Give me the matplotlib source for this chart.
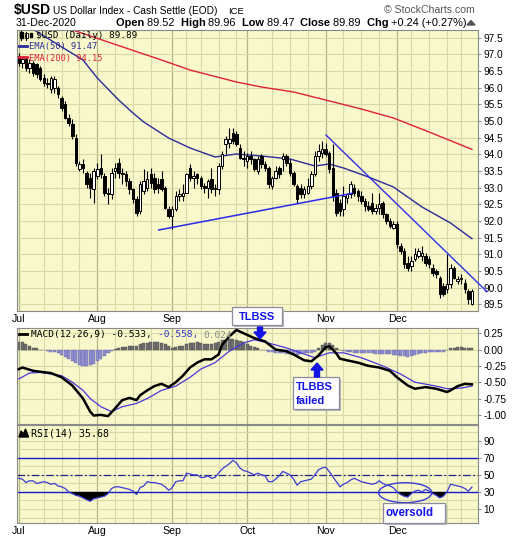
import numpy as np
import pandas as pd
import matplotlib
matplotlib.use("Agg")
import matplotlib.pyplot as plt
from matplotlib.patches import Rectangle, Ellipse, Polygon

# ---------------- data ----------------
holidays = ["2020-07-03", "2020-09-07", "2020-11-26", "2020-12-25"]
dates = pd.bdate_range("2020-07-01", "2020-12-31").drop(pd.to_datetime(holidays))

opens = [96.95,96.75,96.85,96.6,96.75,96.7,96.6,96.3,96.15,95.95,
 96.0,96.0,95.7,95.5,95.1,94.9,94.5,93.55,93.7,93.45,
 93.3,92.95,93.35,93.6,93.35,92.85,92.8,93.5,93.75,93.4,
 93.4,93.2,92.95,92.65,92.3,92.9,93.0,93.4,93.3,93.1,
 93.25,93.0,92.35,92.15,92.35,92.75,92.75,92.85,93.6,93.3,
 93.4,93.3,93.05,93.0,93.25,92.95,92.95,93.65,94.3,94.35,
 94.65,94.6,94.2,93.9,93.8,93.95,93.85,93.5,93.95,93.7,
 93.6,93.05,93.3,93.6,93.85,93.95,93.75,93.45,93.05,93.0,
 92.8,92.85,93.05,93.4,93.95,94.05,94.15,94.05,93.6,92.85,
 92.55,92.35,92.7,92.8,93.0,92.9,92.75,92.6,92.45,92.55,
 92.3,92.4,92.55,92.2,92.0,91.8,91.9,91.25,91.1,90.75,
 90.65,90.85,90.95,90.95,90.95,90.85,90.6,90.5,90.3,90.05,
 89.95,90.1,90.6,90.2,90.25,90.15,89.9,89.52]
highs = [97.05,96.95,96.9,96.85,96.8,96.75,96.65,96.4,96.3,96.35,
 96.35,96.05,95.75,95.6,95.2,95.05,94.6,93.8,93.85,93.5,
 93.45,93.6,93.75,94.0,93.45,93.0,93.6,93.75,93.9,93.6,
 93.5,93.3,93.0,92.75,93.2,93.55,93.5,93.6,93.45,93.3,
 93.5,93.05,92.45,92.45,92.9,92.95,93.1,93.45,93.7,93.5,
 93.45,93.35,93.15,93.25,93.6,93.1,93.75,94.1,94.55,94.8,
 94.8,94.7,94.3,94.1,94.05,94.1,93.9,93.95,94.0,93.8,
 93.65,93.35,93.65,93.65,94.05,94.0,93.85,93.5,93.1,93.1,
 93.05,93.3,93.5,94.1,94.3,94.4,94.35,94.1,94.3,92.95,
 92.65,93.05,92.85,93.2,93.1,92.95,92.9,92.7,92.6,92.85,
 92.5,92.85,92.6,92.25,92.1,92.0,92.0,91.35,91.2,90.95,
 90.95,91.2,91.2,91.25,91.05,90.95,90.7,90.55,90.35,90.15,
 91.0,90.7,90.65,90.35,90.4,90.25,89.95,89.96]
lows = [96.65,96.6,96.5,96.45,96.35,96.3,96.2,96.05,96.0,95.85,
 95.85,95.7,95.3,95.05,94.85,94.45,93.65,93.5,93.45,93.0,
 92.7,92.55,93.25,93.3,92.75,92.5,92.65,93.3,93.3,93.1,
 93.05,92.8,92.55,92.15,92.2,92.8,92.9,93.0,92.85,92.85,
 92.9,92.35,92.1,91.75,92.3,92.6,92.6,92.85,93.2,93.0,
 93.1,92.95,92.85,92.7,92.85,92.75,92.8,93.55,94.0,94.2,
 94.3,94.25,93.85,93.65,93.6,93.7,93.5,93.4,93.6,93.5,
 93.0,92.95,93.25,93.3,93.5,93.65,93.35,93.05,92.55,92.7,
 92.7,92.8,92.95,93.35,93.8,93.9,93.95,93.45,92.6,92.15,
 92.15,92.15,92.55,92.7,92.75,92.6,92.5,92.3,92.3,92.2,
 92.2,92.2,92.1,91.9,91.8,91.75,91.2,91.0,90.6,90.5,
 90.5,90.8,90.9,90.8,90.65,90.6,90.35,90.3,89.7,89.75,
 89.85,90.0,90.25,90.1,90.1,89.85,89.5,89.47]
closes = [96.75,96.85,96.6,96.75,96.45,96.4,96.25,96.15,96.1,96.3,
 96.25,95.8,95.4,95.1,94.95,94.55,93.75,93.7,93.6,93.1,
 93.0,93.5,93.55,93.4,92.85,92.8,93.45,93.6,93.45,93.45,
 93.2,92.95,92.65,92.25,93.1,93.2,93.25,93.15,92.95,93.0,
 92.95,92.4,92.15,92.35,92.75,92.8,92.85,93.4,93.3,93.35,
 93.3,93.05,93.0,93.2,92.95,92.95,93.65,94.0,94.45,94.45,
 94.4,94.3,93.9,93.85,93.95,93.85,93.55,93.85,93.7,93.6,
 93.1,93.3,93.5,93.4,93.95,93.75,93.45,93.1,92.65,92.8,
 92.95,93.05,93.4,93.95,94.1,94.15,94.0,93.55,92.75,92.25,
 92.3,92.75,92.8,93.1,92.85,92.75,92.6,92.45,92.35,92.3,
 92.4,92.5,92.2,92.0,91.85,91.9,91.3,91.1,90.7,90.6,
 90.8,91.0,91.1,91.05,90.75,90.7,90.45,90.4,89.8,89.8,
 90.1,90.6,90.3,90.25,90.3,89.95,89.65,89.89]

ema50_idx = [0, 4, 18, 22, 28, 32, 35, 42, 48, 55, 61, 68, 76, 83, 87, 91, 98, 105, 113, 121, 127]
ema50_val = [98.0, 97.75, 96.83, 96.29, 95.63, 95.24, 94.97, 94.49, 94.19, 93.92, 94.01,
             93.95, 93.86, 93.65, 93.71, 93.59, 93.32, 93.02, 92.42, 91.94, 91.47]
ema200_idx = [0, 16, 25, 40, 48, 61, 68, 77, 86, 96, 105, 115, 127]
ema200_val = [98.0, 97.70, 97.37, 96.83, 96.53, 96.17, 96.02, 95.87, 95.63, 95.36, 95.09, 94.67, 94.15]

support_idx = [39.2, 93.4]
support_val = [91.73, 92.83]
resist_idx = [86.1, 131.2]
resist_val = [94.58, 89.88]

macd_idx = [0, 1, 4, 6, 9, 12, 15, 18, 20, 21, 23, 25, 27, 29, 31, 33, 34, 36, 38, 40,
            42, 44, 46, 48, 50, 52, 54, 56, 57, 59, 61, 63, 66, 69, 72, 75, 77, 80, 82, 84,
            86, 87, 88, 89, 90, 92, 95, 98, 101, 104, 106, 109, 111, 114, 117, 120, 121, 123, 125, 127]
macd_val = [-0.30, -0.275, -0.325, -0.34, -0.36, -0.425, -0.55, -0.75, -0.95, -1.01,
            -1.0, -1.02, -0.9, -0.775, -0.74, -0.775, -0.70, -0.625, -0.56, -0.525,
            -0.575, -0.5, -0.40, -0.275, -0.2, -0.15, -0.15, -0.075, 0.075, 0.2,
            0.30, 0.25, 0.175, 0.125, 0.0, -0.025, -0.075, -0.165, -0.18, -0.09,
            0.035, 0.05, 0.0, -0.06, -0.14, -0.165, -0.2, -0.25, -0.275, -0.325,
            -0.425, -0.55, -0.6, -0.575, -0.6, -0.65, -0.625, -0.56, -0.525, -0.533]
signal_idx = [0, 3, 6, 9, 12, 15, 18, 20, 23, 26, 29, 33, 36, 40, 44, 48, 51, 55, 59, 63,
              66, 70, 75, 79, 83, 87, 91, 96, 102, 107, 111, 117, 120, 124, 127]
signal_val = [-0.45, -0.36, -0.35, -0.375, -0.40, -0.50, -0.625, -0.75, -0.875, -0.95,
              -0.875, -0.825, -0.75, -0.625, -0.56, -0.425, -0.30, -0.20, -0.025, 0.10,
              0.15, 0.10, 0.025, -0.05, -0.125, -0.05, -0.05, -0.125, -0.25, -0.375,
              -0.5, -0.56, -0.6, -0.59, -0.558]
hist = [0.12,0.12,0.09,0.06,0.03,0.02,0.0,-0.01,-0.02,-0.03,
 -0.04,-0.06,-0.09,-0.12,-0.15,-0.18,-0.21,-0.23,-0.25,-0.25,
 -0.24,-0.22,-0.18,-0.14,-0.1,-0.06,-0.02,0.01,0.03,0.04,
 0.04,0.05,0.05,0.06,0.08,0.1,0.1,0.11,0.12,0.11,
 0.1,0.08,0.05,0.03,0.04,0.05,0.06,0.08,0.1,0.1,
 0.11,0.1,0.09,0.09,0.08,0.1,0.12,0.14,0.15,0.16,
 0.16,0.15,0.13,0.11,0.08,0.06,0.04,0.02,0.0,-0.01,
 -0.03,-0.04,-0.05,-0.06,-0.06,-0.07,-0.07,-0.08,-0.08,-0.07,
 -0.06,-0.05,-0.05,-0.03,0.02,0.07,0.1,0.1,0.07,0.03,
 0.0,-0.02,-0.03,-0.04,-0.05,-0.05,-0.05,-0.06,-0.06,-0.06,
 -0.07,-0.07,-0.07,-0.07,-0.07,-0.08,-0.09,-0.1,-0.1,-0.11,
 -0.1,-0.09,-0.07,-0.05,-0.05,-0.04,-0.04,-0.03,-0.04,-0.03,
 0.0,0.02,0.03,0.04,0.04,0.03,0.02,0.024]
rsi = [46,45,41,43,43,40,41,42,41,39,
 40,37,36,34,30,28,26,25,23,21,
 19,22,23,24,25,28,34,36,36,35,
 34,33,31,27,35,37,42,41,41,40,
 39,36,32,35,42,43,43,52,51,50,
 50,47,47,49,46,47,52,57,60,63,
 67,64,58,55,54,52,50,52,50,49,
 42,42,45,49,54,52,50,45,38,42,
 43,44,45,50,56,58,59,54,48,42,
 36,39,41,44,46,44,42,41,40,39,
 40,43,40,38,37,35,30,27,25,24,
 28,31,32,30,33,31,28,26,23,25,
 30,39,38,37,36,34,31,35.68]

month_labels = ["Jul", "Aug", "Sep", "Oct", "Nov", "Dec"]
price_ticks = [89.5, 90.0, 90.5, 91.0, 91.5, 92.0, 92.5, 93.0, 93.5, 94.0, 94.5, 95.0, 95.5, 96.0, 96.5, 97.0, 97.5]
macd_ticks = [0.25, 0.0, -0.25, -0.50, -0.75, -1.00]
rsi_ticks = [90, 70, 50, 30, 10]

# ---------------- styling ----------------
W, H = 520, 540
BG = "#F8F8CA"
GRID_W = "#D8D8A8"
GRID_M = "#B4B488"
SANS = "Liberation Sans"
MONO = "DejaVu Sans Mono"
BLUE_T = "#1414E6"

fig = plt.figure(figsize=(W / 100, H / 100), dpi=100)
fig.patch.set_facecolor("white")

n = len(closes)
x = np.arange(n)
month_starts = [i for i in range(n) if i == 0 or dates[i].month != dates[i - 1].month]
week_starts = [i for i in range(1, n) if dates[i].weekday() < dates[i - 1].weekday()]
week_lines = [w for w in week_starts if min(abs(w - m) for m in month_starts) > 2]

L, R = 17, 478
XL = (-0.5, 128.7)


def panel(top, bottom, yl, yticks, fmt, grid_y):
    ax = fig.add_axes([L / W, 1 - bottom / H, (R - L) / W, (bottom - top) / H])
    ax.set_facecolor(BG)
    ax.set_xlim(*XL)
    ax.set_ylim(*yl)
    for s in ax.spines.values():
        s.set_color("#8a8a8a")
        s.set_linewidth(0.8)
    for w in week_lines:
        ax.axvline(w, color=GRID_W, lw=0.8, zorder=0)
    for m in month_starts:
        ax.axvline(m, color=GRID_M, lw=0.9, zorder=0)
    for g in grid_y:
        ax.axhline(g, color=GRID_W, lw=0.8, zorder=0)
    ax.yaxis.tick_right()
    ax.set_yticks(yticks)
    ax.set_yticklabels([fmt.format(t) for t in yticks], family=SANS, fontsize=7.3)
    ax.tick_params(axis="y", length=2.5, width=0.6, color="#777777", pad=1.5)
    ax.set_xticks(month_starts)
    ax.set_xticklabels([])
    ax.tick_params(axis="x", length=0)
    return ax


ax1 = panel(30, 311, (89.30, 97.73), price_ticks, "{:.1f}", price_ticks)
ax2 = panel(328, 424, (-1.14, 0.33), macd_ticks, "{:.2f}", macd_ticks)
ax3 = panel(425, 523, (-6.4, 108.4), rsi_ticks, "{:d}", list(range(0, 101, 10)))

# the "Oct" label under the price panel is covered by the TLBSS note in the reference
ax1.set_xticklabels([m if m != "Oct" else "" for m in month_labels], family=SANS, fontsize=7.6)
ax3.set_xticklabels(month_labels, family=SANS, fontsize=7.6)
for ax in (ax1, ax3):
    ax.tick_params(axis="x", pad=2.5)

# ---- price panel ----
o = np.array(opens); h = np.array(highs); l = np.array(lows); c = np.array(closes)
ax1.vlines(x, l, h, color="black", lw=0.8, zorder=3)
up = c >= o
body_lo = np.minimum(o, c)
body_h = np.maximum(np.abs(c - o), 0.025)
ax1.bar(x[up], body_h[up], bottom=body_lo[up], width=0.7, color="white",
        edgecolor="black", linewidth=0.7, zorder=4)
ax1.bar(x[~up], body_h[~up], bottom=body_lo[~up], width=0.7, color="black",
        edgecolor="black", linewidth=0.7, zorder=4)
ax1.plot(ema50_idx, ema50_val, color="#2B2B9C", lw=1.0, zorder=2)
ax1.plot(ema200_idx, ema200_val, color="#E0203C", lw=1.0, zorder=2)
ax1.plot(support_idx, support_val, color="#2A2AEE", lw=1.1, zorder=5)
ax1.plot(resist_idx, resist_val, color="#3030E8", lw=1.0, zorder=5, clip_on=False)

# ---- MACD panel ----
hv = np.array(hist)
ax2.bar(x[hv >= 0], hv[hv >= 0], width=0.85, color="#6E6E6E", edgecolor="#505050", linewidth=0.3, zorder=2)
ax2.bar(x[hv < 0], hv[hv < 0], width=0.85, color="#8E8ECC", edgecolor="#6A6AAE", linewidth=0.3, zorder=2)
ax2.plot(signal_idx, signal_val, color="#4B35DB", lw=0.9, zorder=3)
ax2.plot(macd_idx, macd_val, color="black", lw=1.8, zorder=4)

# ---- RSI panel ----
rv = np.array(rsi, dtype=float)
ax3.axhline(70, color="#1C1CC8", lw=1.0, zorder=2)
ax3.axhline(30, color="#1C1CC8", lw=1.0, zorder=2)
ax3.axhline(50, color="#222288", lw=0.9, dashes=(6, 2, 1.5, 2), zorder=2)
ax3.fill_between(x, rv, 30, where=rv < 30, interpolate=True, color="black", lw=0, zorder=3)
ax3.plot(x, rv, color="#3A3AD6", lw=0.9, zorder=4)
ax3.add_patch(Ellipse((108.3, 29.1), 14.9, 23.4, fill=False, edgecolor="#3A3AD6", lw=1.0, zorder=5))

# ---------------- overlay (pixel coordinates) ----------------
ov = fig.add_axes([0, 0, 1, 1], zorder=10)
ov.set_xlim(0, W)
ov.set_ylim(H, 0)
ov.axis("off")
ov.patch.set_alpha(0)


def chain(x0, y0, parts, size, family):
    kw0 = dict(fontsize=size, family=family)
    kw0.update(parts[0][1])
    prev = ov.text(x0, y0, parts[0][0], va="baseline", ha="left", **kw0)
    for s, kw in parts[1:]:
        k = dict(fontsize=size, family=family)
        k.update(kw)
        prev = ov.annotate(s, xy=(1, 0), xycoords=prev, xytext=(0, 0), textcoords="offset points",
                           va="bottom", ha="left", **k)
    return prev


# header
ov.text(14, 14, "$USD", fontsize=10, weight="bold", family=SANS, va="baseline")
ov.text(53, 13.5, "US Dollar Index - Cash Settle (EOD)", fontsize=7.3, family=SANS, va="baseline")
ov.text(228, 13.5, "ICE", fontsize=6.8, family=SANS, va="baseline")
ov.text(475, 13, "© StockCharts.com", fontsize=7.6, family=SANS, color="#555555", ha="right", va="baseline")
ov.text(16, 26, "31-Dec-2020", fontsize=7.6, family=SANS, va="baseline")
B = dict(weight="bold")
N = dict()
chain(116, 26, [("Open ", B), ("89.52  ", N), ("High ", B), ("89.96  ", N), ("Low ", B), ("89.47  ", N),
                ("Close ", B), ("89.89  ", N), ("Chg ", B), ("+0.24 (+0.27%) ", N)], 7.9, SANS)
ov.add_patch(Polygon([[467, 25], [475, 25], [471, 20.5]], closed=True, color="#555555"))

# price legend
ov.add_patch(Rectangle((20, 32), 2.5, 6, color="black"))
ov.plot([21.2, 21.2], [30.5, 39.5], color="black", lw=0.8)
ov.add_patch(Rectangle((25, 33), 2.5, 5, facecolor="white", edgecolor="black", lw=0.6))
ov.plot([26.2, 26.2], [31.5, 39.5], color="black", lw=0.8)
ov.add_patch(Rectangle((29.5, 32.5), 2.5, 4.5, color="black"))
ov.text(36, 38.5, "$USD (Daily) 89.89", fontsize=6.7, family=MONO, va="baseline")
ov.plot([19, 27], [45.5, 45.5], color="#2B2B9C", lw=2)
ov.text(29, 49, "EMA(50) 91.47", fontsize=6.3, family=MONO, color="#2B2B9C", va="baseline")
ov.plot([19, 27], [57, 57], color="#E0203C", lw=2)
ov.text(29, 60.5, "EMA(200) 94.15", fontsize=6.3, family=MONO, color="#E0203C", va="baseline")

# MACD legend
ov.plot([19, 27], [334, 334], color="black", lw=2)
chain(31, 337.5, [("MACD(12,26,9) -0.533, ", dict(color="black")),
                  ("-0.558, ", dict(color="#3333CC")),
                  ("0.024", dict(color="#888888"))], 6.8, MONO)

# RSI legend
ov.add_patch(Polygon([[19, 437], [21, 431], [23.5, 434], [25.5, 429], [28.5, 437]], closed=True, color="black"))
ov.text(31, 436.5, "RSI(14) 35.68", fontsize=7.1, family=MONO, va="baseline")


def note_box(x0, y0, x1, y1):
    ov.add_patch(Rectangle((x0 + 2, y0 + 2), x1 - x0, y1 - y0, facecolor="#B8B8B8", edgecolor="none", zorder=20))
    ov.add_patch(Rectangle((x0, y0), x1 - x0, y1 - y0, facecolor="white", edgecolor="#8C8C9C", lw=0.9, zorder=21))


note_box(232, 307, 282, 325)
ov.text(257, 317, "TLBSS", fontsize=8, family=SANS, weight="bold", color=BLUE_T, ha="center", va="center", zorder=22)
ov.add_patch(Polygon([[257.5, 327], [262.5, 327], [262.5, 332], [266, 332], [260, 339], [254, 332], [257.5, 332]],
                     closed=True, color=BLUE_T, zorder=22))

note_box(293, 377, 339, 409)
ov.text(296, 387, "TLBBS", fontsize=8, family=SANS, weight="bold", color=BLUE_T, ha="left", va="center", zorder=22)
ov.text(296, 401, "failed", fontsize=8, family=SANS, weight="bold", color=BLUE_T, ha="left", va="center", zorder=22)
ov.add_patch(Polygon([[314.5, 377], [319.5, 377], [319.5, 370], [323, 370], [317, 363], [311, 370], [314.5, 370]],
                     closed=True, color=BLUE_T, zorder=22))

note_box(383, 503, 445, 523)
ov.text(386, 513.5, "oversold", fontsize=8.3, family=SANS, weight="bold", color=BLUE_T, ha="left", va="center", zorder=22)

fig.savefig("out.png", dpi=100)
